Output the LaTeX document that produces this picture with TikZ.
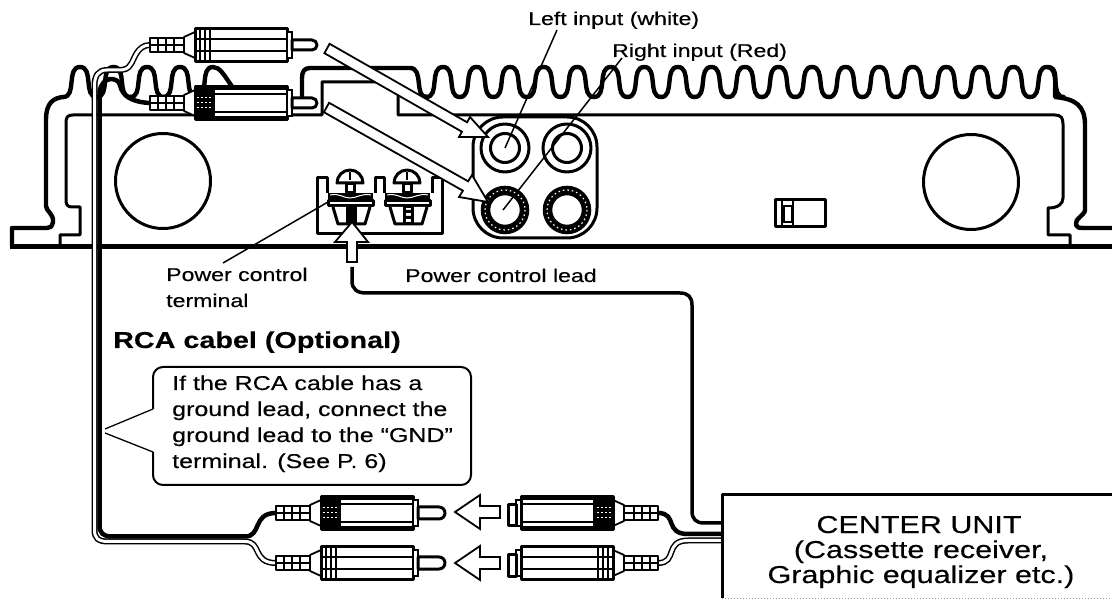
\documentclass[tikz,border=0pt]{standalone}
\usepackage{fontspec}
\setmainfont[FakeStretch=1.25,FakeBold=0.3]{Liberation Sans}
\usetikzlibrary{arrows.meta}

\tikzset{
    heavy/.style={draw=black,line width=4.4pt,line join=round},
    medium/.style={draw=black,line width=3pt,line join=round},
    fine/.style={draw=black,line width=1.3pt},
    hollow/.style={draw=black,fill=white,line width=1.8pt,line join=miter},
    blacklead/.style={draw=black,line width=4.5pt},
    whitelead/.style={draw=black,double=white,line width=1.5pt,double distance=3pt},
    smalltext/.style={anchor=base west,inner sep=0pt,font=\fontsize{18.5}{22}\selectfont},
    notetext/.style={anchor=base west,inner sep=0pt,font=\fontsize{20}{25.7}\selectfont,align=left},
}

% x y tail: 1 = to the right, -1 = to the left, 0/1 = dark body
\newcommand{\rcabody}[4]{
\begin{scope}[shift={(#1,#2)},xscale=#3]
    \draw[medium,fill=white,line width=1.8pt] (0,-7) rectangle (34,7);
    \foreach \sx in {8,16,24} \draw[fine] (\sx,-7) -- (\sx,7);
    \draw[fine] (0,0) -- (34,0);
    \draw[medium,fill=white,line width=1.8pt] (34,-8) -- (45,-13) -- (45,13) -- (34,8) -- cycle;
    \draw[medium,fill=white] (45,-16.5) rectangle (137,16.5);
    \draw[hollow] (137,-13) rectangle (142,13);
    \ifnum#4=1
        \fill[black] (45,-16.5) rectangle (65,16.5);
        \draw[black,line width=4pt] (45,-15) -- (137,-15) (45,15) -- (137,15);
        \draw[fine] (65,-9) -- (137,-9) (65,9) -- (137,9);
        \draw[white,line width=1pt,dash pattern=on 2pt off 2pt] (47,-5) -- (63,-5) (47,0) -- (63,0) (47,5) -- (63,5);
    \else
        \foreach \sx in {50,55,60} \draw[fine] (\sx,-16.5) -- (\sx,16.5);
        \draw[fine] (45,-6) -- (137,-6) (45,6) -- (137,6);
    \fi
\end{scope}
}

\begin{document}
\begin{tikzpicture}[x=1pt,y=-1pt]
\useasboundingbox (0,0) rectangle (1112,601);

% names for the lead ends
\coordinate (topA) at (150,45);
\coordinate (topB) at (150,103);
\coordinate (lowA) at (276,513);
\coordinate (lowB) at (276,563);
\coordinate (farA) at (658,513);
\coordinate (farB) at (658,563);
\coordinate (unitA) at (722,523);
\coordinate (unitB) at (722,534);
\coordinate (unitC) at (722,540.5);
\coordinate (jackLeft) at (505,148);
\coordinate (jackRight) at (503,210);
\coordinate (plate) at (328,202);

% fins
\foreach \k in {0,...,18} {
    \pgfmathsetmacro{\pk}{443+33.55*\k}
    \draw[heavy,line cap=round] ({\pk-16.75},97) .. controls ({\pk-3},97) and ({\pk-14},67) .. (\pk,67)
        .. controls ({\pk+14},67) and ({\pk+3},97) .. ({\pk+16.75},97);
}
\foreach \pk in {80,113.5,147,180} {
    \draw[heavy,line cap=round] ({\pk-16.75},97) .. controls ({\pk-3},97) and ({\pk-14},67) .. (\pk,67)
        .. controls ({\pk+14},67) and ({\pk+3},97) .. ({\pk+16.75},97);
}
\draw[heavy,line cap=round] (196.75,97) .. controls (210,97) and (199,67) .. (213,67) .. controls (220,67) and (224,75) .. (233,88);
\draw[heavy] (426.25,97) .. controls (414,97) and (424,68) .. (410,68) -- (310,68) .. controls (304,68) and (302,72) .. (302,78) -- (302,106);

% case outline
\draw[heavy] (63.25,97) .. controls (54,98) and (46,102) .. (46,120) -- (46,206) .. controls (46,211) and (54,214) .. (53,222) .. controls (52,227) and (50,228) .. (47,228) -- (12,228) -- (12,247);
\draw[heavy] (1047.5,67) .. controls (1058,67) and (1055,80) .. (1055,97) .. controls (1075,99) and (1085,105) .. (1085,125) -- (1085,210) .. controls (1085,215) and (1074,219) .. (1076,225) .. controls (1077,228) and (1080,228) .. (1083,228) -- (1112,228);
\draw[draw=black,line width=5pt] (10,247) -- (1112,247);
\draw[medium] (60,247) -- (60,235) -- (80,235) -- (80,207) -- (72,207) .. controls (67,207) and (66,204) .. (66,200) -- (66,122) .. controls (66,117) and (68,115) .. (73,115) -- (322,115) -- (322,82) -- (390,82);
\draw[medium] (398,94) -- (398,115) -- (1055,115) .. controls (1061,115) and (1063,118) .. (1063,124) -- (1063,198) .. controls (1063,204) and (1058,208) .. (1048,208) -- (1048,235) -- (1070,235) -- (1070,247);

% cooling holes and switch
\draw[medium] (163,181) circle[radius=47.5];
\draw[medium] (971,182) circle[radius=47.5];
\draw[medium] (775,200) rectangle (825,227);
\draw[fine,line width=2pt] (782,200) -- (782,227) (793,200) -- (793,227) (784,206) rectangle (792,222);

% terminal block
\draw[medium] (327,193) -- (327,178) -- (317,178) -- (317,234) -- (442,234) -- (442,178) -- (432,178) -- (432,193);
\draw[medium] (375,193) -- (375,178) -- (384,178) -- (384,193);
\foreach \tx/\midfill in {0/black,57/white} {
\begin{scope}[shift={(\tx,0)}]
    \draw[medium,fill=white] (337,183) arc[start angle=180,end angle=360,radius=13] -- cycle;
    \draw[fine] (350,172) -- (350,180);
    \draw[medium,fill=white] (346,184) rectangle (354,193);
    \fill[black] (328,193) rectangle (373,201);
    \draw[white,line width=1pt] (330,195) .. controls (340,193) and (343,198) .. (350,198) .. controls (357,198) and (362,193) .. (371,195);
    \draw[medium,fill=white] (328,201) rectangle (373,206);
    \draw[medium,fill=white] (333,207) -- (338,224) -- (365,224) -- (370,207);
    \draw[medium,fill=\midfill] (347,207) rectangle (355,224);
\end{scope}
}
\fill[black] (404,210) rectangle (412,213) (404,216) rectangle (412,219);

% input panel
\draw[medium,rounded corners=30pt] (473,117) rectangle (597,238);
\foreach \jx in {505,567} {
    \draw[medium,fill=white] (\jx,148) circle[radius=24];
    \draw[medium,line width=3pt] (\jx,148) circle[radius=14.5];
    \draw[black,line width=9.5pt] (\jx,210) circle[radius=19.5];
    \draw[white,line width=1.2pt,dash pattern=on 1.5pt off 3pt] (\jx,210) circle[radius=20];
}

% leads
\draw[whitelead] (topA) .. controls (137,45) and (134,60) .. (131,64) .. controls (128,69) and (125,70) .. (118,70) -- (107,70) .. controls (98,70) and (94.5,76) .. (94.5,86) -- (94.5,530) .. controls (94.5,538) and (98,541.5) .. (108,541.5) -- (245,541.5) .. controls (262,541.5) and (252,563) .. (lowB);
\draw[blacklead] (topB) .. controls (130,102) and (122,95) .. (120,85) .. controls (118,77) and (102,75) .. (99.5,92) -- (99.5,525) .. controls (99.5,533) and (103,536.5) .. (112,536.5) -- (245,536.5) .. controls (262,536.5) and (252,513) .. (lowA);
\draw[blacklead] (farA) .. controls (678,513) and (664,534) .. (688,534) -- (unitB);
\draw[whitelead] (farB) .. controls (678,563) and (664,540.5) .. (688,540.5) -- (unitC);
\draw[draw=black,line width=3.5pt] (352,267) -- (352,281) .. controls (352,289) and (357,293) .. (366,293) -- (680,293) .. controls (688,293) and (692,297) .. (692,305) -- (692,511) .. controls (692,519) and (696,523) .. (704,523) -- (unitA);

% plugs
\rcabody{150}{45}{1}{0}
\draw[medium,fill=white] (292,40) -- (312,40) arc[start angle=-90,end angle=90,radius=5] -- (292,50) -- cycle;
\rcabody{150}{103}{1}{1}
\draw[medium,fill=white] (292,98) -- (312,98) arc[start angle=-90,end angle=90,radius=5] -- (292,108) -- cycle;
\rcabody{276}{513}{1}{1}
\draw[medium,fill=white] (418,507) -- (439,507) arc[start angle=-90,end angle=90,radius=6] -- (418,519) -- cycle;
\rcabody{276}{563}{1}{0}
\draw[medium,fill=white] (418,557) -- (439,557) arc[start angle=-90,end angle=90,radius=6] -- (418,569) -- cycle;
\rcabody{658}{513}{-1}{1}
\draw[medium,fill=white] (508,505) rectangle (516,526);
\rcabody{658}{563}{-1}{0}
\draw[medium,fill=white] (508,555) rectangle (516,576);

% arrows
\draw[hollow] (329.6,43.8) -- (467.1,122.3) -- (470,117) -- (488,137) -- (459,137) -- (461.9,131.7) -- (324.4,53.2) -- cycle;
\draw[hollow] (329.1,102.8) -- (468.1,181.3) -- (472,175) -- (488,202) -- (459,197) -- (462.9,190.7) -- (323.9,112.2) -- cycle;
\draw[hollow] (352,222) -- (368,242) -- (357,242) -- (357,262) -- (347,262) -- (347,242) -- (335,242) -- cycle;
\draw[hollow] (455,512) -- (480,495) -- (480,506) -- (500,506) -- (500,518) -- (480,518) -- (480,529) -- cycle;
\draw[hollow] (455,563) -- (480,546) -- (480,557) -- (500,557) -- (500,569) -- (480,569) -- (480,580) -- cycle;

% labels
\node[smalltext] (leftinput) at (528,25) {Left input (white)};
\node[smalltext] (rightinput) at (612,57) {Right input (Red)};
\node[smalltext] (leadlabel) at (405,282) {Power control lead};
\node[smalltext] (termlabel) at (166,281) {Power control};
\node[smalltext] (termlabeltwo) at (166,307) {terminal};
\node[anchor=base west,inner sep=0pt,font=\fontsize{23}{26}\selectfont\bfseries] (rcalabel) at (113,348) {RCA cabel (Optional)};
\draw[fine,line width=1.5pt] (557,30) -- (jackLeft);
\draw[fine,line width=1.5pt] (622,58) -- (jackRight);
\draw[fine,line width=1.5pt] (223,263) -- (plate);

% note
\draw[medium,line width=2pt,fill=white,rounded corners=10pt] (153,409) -- (153,367) -- (471,367) -- (471,485) -- (153,485) -- (153,452);
\draw[fine,line width=1.3pt] (153,409) -- (105,429) (105,433) -- (153,452);
\node[notetext] (line1) at (172,390) {If the RCA cable has a};
\node[notetext] (line2) at (172,416) {ground lead, connect the};
\node[notetext] (line3) at (172,442) {ground lead to the “GND”};
\node[notetext] (line4) at (172,468) {terminal. (See P. 6)};

% center unit
\draw[medium] (1112,495) -- (722,495) -- (722,598);
\draw[black!40,line width=1pt,dotted] (722,598) -- (1112,598);
\node[anchor=base,inner sep=0pt,font=\fontsize{24.4}{25}\selectfont] (unit1) at (919,533) {CENTER UNIT};
\node[anchor=base,inner sep=0pt,font=\fontsize{24.4}{25}\selectfont] (unit2) at (921,558) {(Cassette receiver,};
\node[anchor=base,inner sep=0pt,font=\fontsize{24.4}{25}\selectfont] (unit3) at (921,583) {Graphic equalizer etc.)};
\end{tikzpicture}
\end{document}
